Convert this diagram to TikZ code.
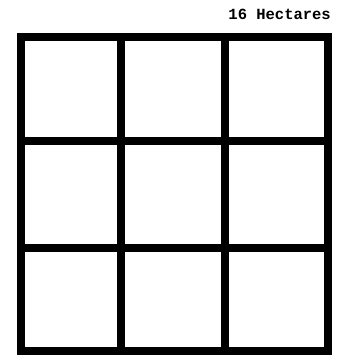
\documentclass[tikz,border=0pt]{standalone}
\usepackage{fontspec}
\newfontfamily\monof{Liberation Mono}
\begin{document}
\begin{tikzpicture}[x=1pt,y=1pt,
  gridline/.style={line width=8pt,line cap=rect,black},
  lbl/.style={font=\monof\bfseries\fontsize{15.5}{18}\selectfont,inner sep=0pt,anchor=base east}]
\useasboundingbox (0,0) rectangle (351,355);
% grid: x at 21,121,225,328 ; y (from top) at 37,141,248,351
\draw[gridline] (21,318) rectangle (328,4);
\draw[gridline] (121,318) -- (121,4);
\draw[gridline] (225,318) -- (225,4);
\draw[gridline] (21,214) -- (328,214);
\draw[gridline] (21,107) -- (328,107);
\node[lbl] (title) at (331,335) {16 Hectares};
\end{tikzpicture}
\end{document}
